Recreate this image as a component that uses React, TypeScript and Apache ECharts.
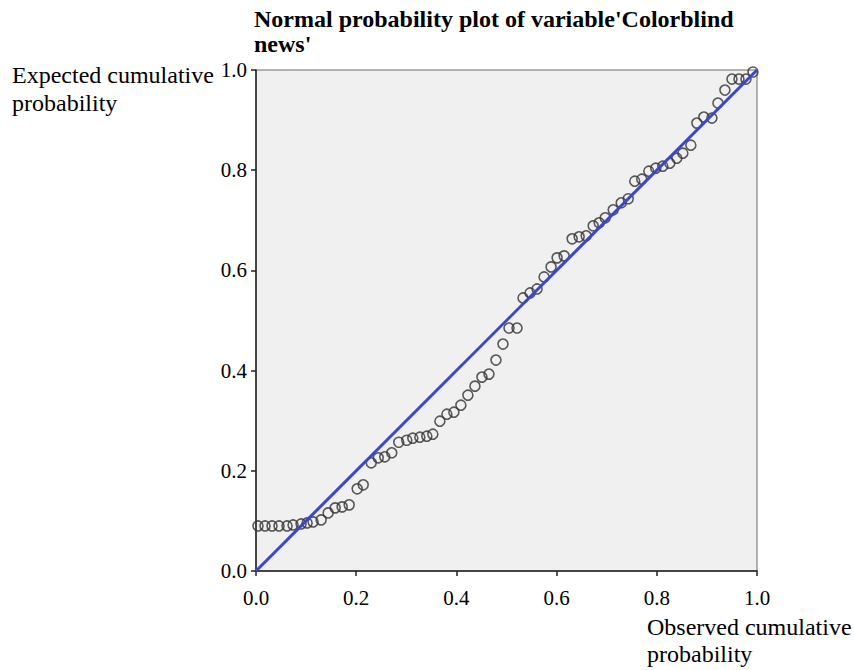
import React, { useEffect, useRef } from "react";
import * as echarts from "echarts";

const titleText = "Normal probability plot of variable'Colorblind\nnews'";
const xAxisName = "Observed cumulative\nprobability";
const yAxisName = "Expected cumulative\nprobability";
const tickValues = [0, 0.2, 0.4, 0.6, 0.8, 1.0];

const observed = [
  0.004, 0.018, 0.032, 0.046, 0.062, 0.074, 0.09, 0.102, 0.114, 0.13,
  0.144, 0.158, 0.172, 0.186, 0.202, 0.214, 0.23, 0.244, 0.257, 0.271,
  0.285, 0.301, 0.313, 0.327, 0.341, 0.353, 0.367, 0.381, 0.395, 0.409,
  0.423, 0.437, 0.451, 0.465, 0.479, 0.493, 0.505, 0.521, 0.533, 0.547,
  0.561, 0.575, 0.589, 0.601, 0.615, 0.631, 0.645, 0.659, 0.673, 0.685,
  0.697, 0.713, 0.729, 0.743, 0.756, 0.77, 0.784, 0.798, 0.812, 0.826,
  0.84, 0.852, 0.868, 0.88, 0.894, 0.91, 0.922, 0.936, 0.95, 0.964,
  0.978, 0.992,
];

const expected = [
  0.09, 0.09, 0.09, 0.09, 0.09, 0.092, 0.094, 0.096, 0.098, 0.102,
  0.116, 0.126, 0.128, 0.132, 0.164, 0.172, 0.216, 0.226, 0.228, 0.236,
  0.257, 0.261, 0.265, 0.267, 0.269, 0.273, 0.299, 0.313, 0.317, 0.331,
  0.351, 0.369, 0.387, 0.393, 0.421, 0.453, 0.485, 0.485, 0.545, 0.555,
  0.563, 0.587, 0.607, 0.625, 0.629, 0.663, 0.667, 0.669, 0.689, 0.695,
  0.705, 0.721, 0.735, 0.743, 0.778, 0.782, 0.798, 0.804, 0.808, 0.814,
  0.824, 0.834, 0.85, 0.894, 0.906, 0.904, 0.934, 0.96, 0.982, 0.982,
  0.982, 0.996,
];

const refLine = [
  [0, 0],
  [1, 1],
];

const SERIF = "'Liberation Serif', 'Times New Roman', serif";

export default function App() {
  const ref = useRef<HTMLDivElement>(null);

  useEffect(() => {
    if (!ref.current) return;
    const chart = echarts.init(ref.current, null, { renderer: "svg" });
    const points = observed.map((x, i) => [x, expected[i]]);
    chart.setOption({
      animation: false,
      backgroundColor: "#ffffff",
      title: {
        text: titleText,
        left: 249,
        top: 1,
        textStyle: {
          fontFamily: SERIF,
          fontWeight: "bold",
          fontSize: 24,
          lineHeight: 25,
          color: "#000",
        },
      },
      grid: {
        left: 256,
        top: 70,
        width: 501,
        height: 501,
        show: true,
        backgroundColor: "#f0f0f0",
        borderColor: "#6a6a6a",
        borderWidth: 1,
      },
      xAxis: {
        type: "value",
        min: 0,
        max: 1,
        interval: 0.2,
        axisLine: { show: true, lineStyle: { color: "#222", width: 1.5 } },
        axisTick: { show: true, length: 5, lineStyle: { color: "#222", width: 1.5 } },
        splitLine: { show: false },
        axisLabel: {
          margin: 16,
          fontFamily: SERIF,
          fontSize: 21,
          color: "#000",
          formatter: (v: number) => (tickValues.includes(Math.round(v * 10) / 10) ? v.toFixed(1) : ""),
        },
      },
      yAxis: {
        type: "value",
        min: 0,
        max: 1,
        interval: 0.2,
        axisLine: { show: true, lineStyle: { color: "#222", width: 1.5 } },
        axisTick: { show: true, length: 5, lineStyle: { color: "#222", width: 1.5 } },
        splitLine: { show: false },
        axisLabel: {
          margin: 9,
          fontFamily: SERIF,
          fontSize: 21,
          color: "#000",
          formatter: (v: number) => v.toFixed(1),
        },
      },
      graphic: [
        {
          type: "text",
          left: 12,
          top: 61,
          style: {
            text: yAxisName,
            font: `24px ${SERIF}`,
            lineHeight: 28,
            fill: "#000",
          },
        },
        {
          type: "text",
          left: 647,
          top: 613,
          style: {
            text: xAxisName,
            font: `24px ${SERIF}`,
            lineHeight: 27,
            fill: "#000",
          },
        },
      ],
      series: [
        {
          type: "scatter",
          data: points,
          symbol: "circle",
          symbolSize: 10,
          itemStyle: {
            color: "rgba(0,0,0,0)",
            borderColor: "#333",
            borderWidth: 1.6,
          },
          z: 2,
        },
        {
          type: "line",
          data: refLine,
          showSymbol: false,
          symbol: "none",
          lineStyle: { color: "#3c46c8", width: 3 },
          z: 3,
        },
      ],
    });
    return () => chart.dispose();
  }, []);

  return (
    <div
      ref={ref}
      style={{ position: "fixed", left: 0, top: 0, width: 854, height: 670 }}
    />
  );
}
